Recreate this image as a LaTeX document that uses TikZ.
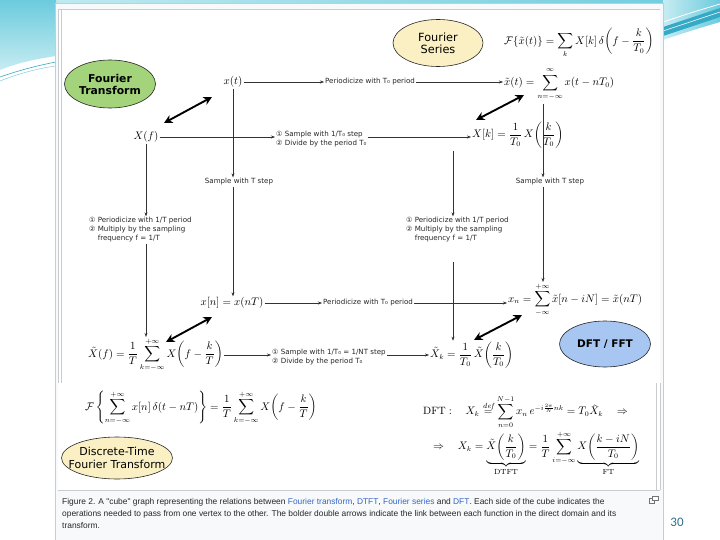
\documentclass[tikz,border=0pt]{standalone}
\usepackage{amsmath}
\usepackage{fontspec}
\usetikzlibrary{shapes.geometric,arrows.meta,calc}
\newfontfamily\labfont{DejaVu Sans}
\newfontfamily\capfont{Liberation Sans}
\newfontfamily\numfont{Carlito}
\definecolor{ftgreen}{HTML}{A3D47B}
\definecolor{fsbeige}{HTML}{FBF0C4}
\definecolor{dftblue}{HTML}{A8C6F2}
\definecolor{framecol}{HTML}{C8CCD1}
\definecolor{capbg}{HTML}{F8F9FA}
\definecolor{linkblue}{HTML}{3366CC}
\definecolor{tealA}{HTML}{C6ECF2}
\definecolor{tealB}{HTML}{6CCBDD}
\definecolor{tealC}{HTML}{35AAC6}
\definecolor{numcol}{HTML}{2E6F8E}
\begin{document}
\begin{tikzpicture}[x=1pt,y=-1pt,
  oval/.style={ellipse,draw=black!85,line width=0.6pt,inner sep=0pt},
  ovaltext/.style={align=center,inner sep=0pt,text=black},
  lab/.style={font=\labfont\fontsize{7.1}{9}\selectfont,align=left,inner sep=1pt,text=black!85},
  eq/.style={inner sep=1pt,font=\fontsize{10.6}{12.7}\selectfont},
  conn/.style={line width=0.45pt,draw=black!80,-{Stealth[length=4pt,width=3pt]}},
  dbl/.style={line width=1.9pt,{Stealth[length=8.5pt,width=8.5pt]}-{Stealth[length=8.5pt,width=8.5pt]}},
  capline/.style={font=\capfont\fontsize{8.4}{10}\selectfont,text=black!85,inner sep=0pt,anchor=base west},
]
\useasboundingbox (0,0) rectangle (720,540);
\fill[white] (0,0) rectangle (720,540);
% slide decoration
\shade[left color=tealA,right color=tealB] (0,0) rectangle (720,10);
\shade[top color=tealB,bottom color=tealA] (0,0) -- (56,0) -- (56,56) .. controls (30,60) and (15,64) .. (0,70) -- cycle;
\draw[tealC,line width=0.6pt] (0,77) .. controls (20,70) and (40,65) .. (56,62);
\draw[tealC!60,line width=0.5pt] (0,81) .. controls (20,73) and (40,68) .. (56,66);
\shade[left color=tealA,right color=tealB] (663,0) -- (720,0) -- (720,22) .. controls (700,28) and (680,34) .. (663,40) -- cycle;
\fill[tealC] (663,27) .. controls (690,18) .. (720,8) -- (720,17) .. controls (690,27) .. (663,36) -- cycle;
\draw[white,line width=0.8pt] (663,22) .. controls (690,13) .. (720,4);
\draw[white,line width=0.5pt] (663,31) .. controls (690,22) .. (720,12);
% figure frame
\draw[framecol,fill=capbg,line width=0.8pt] (55,3) rectangle (663,545);
\fill[white] (58,9) rectangle (660,490);
\draw[framecol,line width=0.6pt] (58,9) -- (660,9);
\draw[framecol,line width=0.6pt] (58,490) -- (660,490);
\draw[framecol,line width=0.5pt] (58,9) -- (58,383) (61,9) -- (61,383);
\draw[framecol,line width=0.5pt] (656,383) -- (656,490) (660,383) -- (660,490);

% ellipses
\node[oval,fill=ftgreen,minimum width=91,minimum height=48] (FT) at (110,84) {};
\node[ovaltext,font=\labfont\bfseries\fontsize{10.8}{12}\selectfont] (FTt) at (FT.center) {Fourier\\Transform};
\node[oval,fill=fsbeige,minimum width=90,minimum height=47] (FS) at (438,43) {};
\node[ovaltext,font=\labfont\fontsize{11.3}{12}\selectfont] (FSt) at (FS.center) {Fourier\\Series};
\node[oval,fill=dftblue,minimum width=91,minimum height=46] (DFT) at (605,344) {};
\node[ovaltext,font=\labfont\bfseries\fontsize{10.5}{12}\selectfont] (DFTt) at (DFT.center) {DFT / FFT};
\node[oval,fill=fsbeige,minimum width=111,minimum height=42] (DTFT) at (117,458) {};
\node[ovaltext,font=\labfont\fontsize{11}{12.5}\selectfont] (DTFTt) at (DTFT.center) {Discrete-Time\\Fourier Transform};

% math vertices
\node[eq] (xt) at (233,82) {$x(t)$};
\node[eq,anchor=west] (xtil) at (503,84) {$\displaystyle \tilde{x}(t) = \sum_{n=-\infty}^{\infty} x(t-nT_0)$};
\node[eq,anchor=west] (Fxt) at (503,43) {$\displaystyle \mathcal{F}\{\tilde{x}(t)\} = \sum_{k} X[k]\,\delta\!\left(f-\frac{k}{T_0}\right)$};
\node[eq] (Xf) at (146,137) {$X(f)$};
\node[eq,anchor=west] (Xk) at (471,135) {$\displaystyle X[k] = \frac{1}{T_0}\,X\!\left(\frac{k}{T_0}\right)$};
\node[eq] (xn) at (232,303) {$x[n] = x(nT)$};
\node[eq,anchor=west] (xnn) at (507,300) {$\displaystyle x_n = \sum_{-\infty}^{+\infty} \tilde{x}[n-iN] = \tilde{x}(nT)$};
\node[eq,anchor=west] (Xtf) at (87,355) {$\displaystyle \tilde{X}(f) = \frac{1}{T}\sum_{k=-\infty}^{+\infty} X\!\left(f-\frac{k}{T}\right)$};
\node[eq,anchor=west] (Xtk) at (429,355) {$\displaystyle \tilde{X}_k = \frac{1}{T_0}\,\tilde{X}\!\left(\frac{k}{T_0}\right)$};

% edge labels
\node[lab,anchor=west] (l1) at (324,82) {Periodicize with T₀ period};
\node[lab,anchor=west] (l2) at (275,139.5) {① Sample with 1/T₀ step\\② Divide by the period T₀};
\node[lab] (l3) at (239,182) {Sample with T step};
\node[lab] (l4) at (550,182) {Sample with T step};
\node[lab,anchor=west] (l5) at (88,230) {① Periodicize with 1/T period\\② Multiply by the sampling\\\phantom{②} frequency f = 1/T};
\node[lab,anchor=west] (l6) at (405,230) {① Periodicize with 1/T period\\② Multiply by the sampling\\\phantom{②} frequency f = 1/T};
\node[lab,anchor=west] (l7) at (322,303) {Periodicize with T₀ period};
\node[lab,anchor=west] (l8) at (271,357) {① Sample with 1/T₀ = 1/NT step\\② Divide by the period T₀};

% connectors
\draw[conn] (xt.east) -- (xt.east -| l1.west);
\draw[conn] (xt.east -| l1.east) -- (xt.east -| xtil.west);
\draw[conn] (Xf.east) -- (Xf.east -| l2.west);
\draw[conn] (Xf.east -| l2.east) -- (Xf.east -| Xk.west);
\draw[conn] (xt.south) -- (xt.south |- l3.north);
\draw[conn] (xt.south |- l3.south) -- (xt.south |- xn.north);
\draw[conn] (Xf.south) -- (Xf.south |- l5.north);
\draw[conn] (Xf.south |- l5.south) -- (Xf.south |- Xtf.north);
\coordinate (c1) at (543,104);
\draw[conn] (c1) -- (c1 |- l4.north);
\draw[conn] (c1 |- l4.south) -- (c1 |- xnn.north);
\coordinate (c2) at (453,151);
\coordinate (c3) at (453,262);
\draw[conn] (c2) -- (c2 |- l6.north);
\draw[conn] (c3) -- (c3 |- Xtk.north);
\draw[conn] (xn.east) -- (xn.east -| l7.west);
\draw[conn] (xn.east -| l7.east) -- (xn.east -| xnn.west);
\draw[conn] (Xtf.east) -- (Xtf.east -| l8.west);
\draw[conn] (Xtf.east -| l8.east) -- (Xtf.east -| Xtk.west);

% bold double arrows (function <-> transform)
\coordinate (a1) at (164,123); \coordinate (a2) at (212,97);
\coordinate (b1) at (476,120); \coordinate (b2) at (524,95);
\coordinate (d1) at (166,342); \coordinate (d2) at (212,317);
\coordinate (e1) at (474,340); \coordinate (e2) at (522,315);
\draw[dbl] (a1) -- (a2);
\draw[dbl] (b1) -- (b2);
\draw[dbl] (d1) -- (d2);
\draw[dbl] (e1) -- (e2);

% lower equations
\node[eq,anchor=west] (E1) at (84,408) {$\displaystyle \mathcal{F}\left\{\sum_{n=-\infty}^{+\infty} x[n]\,\delta(t-nT)\right\} = \frac{1}{T}\sum_{k=-\infty}^{+\infty} X\!\left(f-\frac{k}{T}\right)$};
\node[eq,anchor=west] (E2) at (422,412) {$\displaystyle \mathrm{DFT}:\quad X_k \stackrel{\mathit{def}}{=} \sum_{n=0}^{N-1} x_n\, e^{-i\frac{2\pi}{N}nk} = T_0\tilde{X}_k \quad\Rightarrow$};
\node[eq,anchor=west] (E3) at (432,453) {$\displaystyle \Rightarrow\quad X_k = \underbrace{\tilde{X}\!\left(\frac{k}{T_0}\right)}_{\mathrm{DTFT}} = \frac{1}{T}\sum_{i=-\infty}^{+\infty}\underbrace{X\!\left(\frac{k-iN}{T_0}\right)}_{\mathrm{FT}}$};

% caption
\node[capline] (cap1) at (62,504.5) {Figure 2. A "cube" graph representing the relations between \textcolor{linkblue}{Fourier transform}, \textcolor{linkblue}{DTFT}, \textcolor{linkblue}{Fourier series} and \textcolor{linkblue}{DFT}. Each side of the cube indicates the};
\node[capline] (cap2) at (62,516.5) {operations needed to pass from one vertex to the other. The bolder double arrows indicate the link between each function in the direct domain and its};
\node[capline] (cap3) at (62,528.5) {transform.};
% magnify icon
\draw[black!55,line width=0.5pt] (649,498) rectangle (654,503);
\draw[black!55,line width=0.5pt,fill=white] (652,496) rectangle (658,500.5);

% slide number
\node[font=\numfont\fontsize{13}{14}\selectfont,text=numcol,inner sep=0pt] (num) at (677,522) {30};
\end{tikzpicture}
\end{document}
